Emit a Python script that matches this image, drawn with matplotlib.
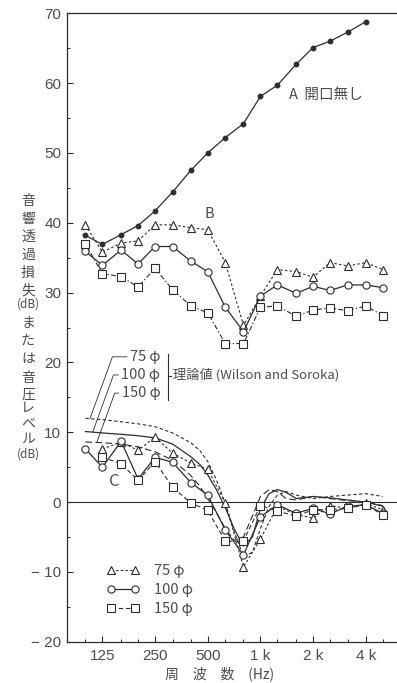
import numpy as np
import matplotlib
matplotlib.use("Agg")
import matplotlib.pyplot as plt
from matplotlib.lines import Line2D
from matplotlib.ticker import FixedLocator, NullFormatter, FuncFormatter

plt.rcParams["font.family"] = ["Noto Sans CJK JP", "DejaVu Sans"]

INK = "#2e2e2e"
TXT = "#4d4d4d"

# 1/3-octave band centres (Hz)
FREQ = [100, 125, 160, 200, 250, 315, 400, 500, 630, 800,
        1000, 1250, 1600, 2000, 2500, 3150, 4000, 5000]

# A: wall without opening, transmission loss (dB)
A_FREQ = FREQ[:17]
A_TL = [38.2, 36.9, 38.3, 39.6, 41.7, 44.4, 47.5, 50.0, 52.2, 54.2,
        58.1, 59.7, 62.7, 65.1, 66.0, 67.3, 68.8]

# B: transmission loss with opening, 75 / 100 / 150 mm
B_75 = [39.7, 35.8, 37.1, 37.4, 39.7, 39.7, 39.3, 39.0, 34.3, 25.3,
        29.5, 33.3, 33.0, 32.2, 34.3, 33.8, 34.3, 33.3]
B_100 = [35.9, 33.9, 36.1, 34.1, 36.6, 36.6, 34.5, 33.0, 27.9, 24.4,
         29.5, 31.1, 29.9, 30.9, 30.3, 31.1, 31.1, 30.7]
B_150 = [37.0, 32.7, 32.3, 30.8, 33.5, 30.4, 28.1, 27.1, 22.7, 22.7,
         27.9, 28.1, 26.6, 27.5, 27.8, 27.4, 28.1, 26.7]

# C: measured sound pressure level (dB)
C75_FREQ = FREQ[1:]
C_75 = [7.6, 8.6, 7.4, 9.3, 7.0, 5.6, 4.7, -0.1, -9.3, -5.3,
        -0.6, -1.8, -2.3, -0.5, -0.9, -0.2, -1.1]
C100_FREQ = FREQ
C_100 = [7.6, 5.0, 8.7, 3.3, 6.4, 5.7, 2.8, 1.0, -4.0, -7.6,
         -2.1, -0.4, -1.6, -0.9, -1.7, -0.6, -0.4, -1.6]
C150_FREQ = FREQ[1:]
C_150 = [6.4, 5.5, 3.1, 5.8, 2.1, -0.1, -1.2, -5.6, -5.6, -0.5,
         -1.3, -2.0, -1.1, -1.1, -0.9, -0.4, -1.8]

# theory (Wilson and Soroka)
T_FREQ = [100, 125, 160, 200, 250, 315, 400, 450, 500, 560, 630, 710,
          800, 900, 1000, 1120, 1250, 1400, 1600, 2000, 2500, 3150, 4000, 5000]
T_75 = [12.0, 11.8, 11.5, 11.2, 10.8, 9.9, 8.5, 7.4, 5.8, 3.2, -0.2, -4.3,
        -7.8, -7.2, -3.8, -0.6, 1.0, 1.5, 1.0, 0.5, 0.8, 1.0, 1.2, 0.8]
T_100 = [10.1, 9.9, 9.7, 9.5, 9.2, 8.3, 6.5, 5.4, 3.9, 1.8, -0.8, -3.9,
         -6.3, -5.0, -1.0, 1.2, 1.8, 1.4, 0.5, 0.8, 0.6, 0.3, 0.0, -0.6]
T_150 = [8.6, 8.5, 8.3, 7.9, 7.2, 6.0, 3.8, 2.3, 0.5, -1.5, -3.8, -5.5,
         -5.0, -2.0, 0.8, 1.8, 1.5, 0.5, 0.3, 0.8, 0.5, 0.2, 0.0, -0.5]

MAJOR_F = [125, 250, 500, 1000, 2000, 4000]
MAJOR_LBL = ["125", "250", "500", "1 k", "2 k", "4 k"]

W, H = 397, 683
fig = plt.figure(figsize=(W / 100, H / 100), dpi=100)
ax = fig.add_axes([66.7 / W, 1 - 641.7 / H, (W - 66.7) / W, (641.7 - 13.3) / H])

ls75 = (0, (2.2, 2.0))
ls150 = (0, (4.5, 2.0, 1.2, 2.0))
mk = dict(mfc="white", mec=INK, mew=0.8, ms=5.2)

# A
ax.plot(A_FREQ, A_TL, "-", color=INK, lw=0.9, marker="o", ms=3.2, mfc=INK, mec=INK)
# B
ax.plot(FREQ, B_75, ls=ls75, color=INK, lw=0.8, marker="^", **mk)
ax.plot(FREQ, B_100, "-", color=INK, lw=0.9, marker="o", **mk)
ax.plot(FREQ, B_150, ls=ls150, color=INK, lw=0.8, marker="s", **mk)
# C theory
ax.plot(T_FREQ, T_75, ls=(0, (3, 2.2)), color=INK, lw=0.8)
ax.plot(T_FREQ, T_100, "-", color=INK, lw=0.9)
ax.plot(T_FREQ, T_150, ls=(0, (6, 3)), color=INK, lw=0.8)
# C measured
h75, = ax.plot(C75_FREQ, C_75, ls=ls75, color=INK, lw=0.8, marker="^", **mk)
h100, = ax.plot(C100_FREQ, C_100, "-", color=INK, lw=0.9, marker="o", **mk)
h150, = ax.plot(C150_FREQ, C_150, ls=(0, (4, 2.5)), color=INK, lw=0.8, marker="s", **mk)

ax.axhline(0, color=INK, lw=0.8, zorder=1)

ax.set_xscale("log")
ax.set_xlim(78.2, 6030)
ax.set_ylim(-20, 70)

ax.xaxis.set_major_locator(FixedLocator(MAJOR_F))
ax.xaxis.set_major_formatter(FuncFormatter(lambda v, p: MAJOR_LBL[MAJOR_F.index(int(round(v)))]
                                           if int(round(v)) in MAJOR_F else ""))
ax.xaxis.set_minor_locator(FixedLocator([f for f in FREQ if f not in MAJOR_F]))
ax.xaxis.set_minor_formatter(NullFormatter())
ax.yaxis.set_major_locator(FixedLocator(range(-20, 71, 10)))
ax.yaxis.set_minor_locator(FixedLocator(range(-15, 70, 10)))
ax.yaxis.set_major_formatter(FuncFormatter(lambda v, p: f"− {-int(v)}" if v < 0 else f"{int(v)}"))

ax.tick_params(which="major", direction="in", length=4.5, width=0.8, color=INK,
               labelsize=11, labelcolor=TXT, pad=4)
ax.tick_params(which="minor", direction="in", length=2.5, width=0.7, color=INK)
ax.tick_params(axis="x", pad=5)
for t in ax.get_xticklabels() + ax.get_yticklabels():
    t.set_fontfamily(["Liberation Sans", "DejaVu Sans"])

for s in ["left", "bottom", "top"]:
    ax.spines[s].set_color(INK)
    ax.spines[s].set_linewidth(0.9)
ax.spines["right"].set_visible(False)

# curve labels
ax.text(1450, 58.3, "A  開口無し", fontsize=10.5, color=TXT, va="center")
ax.text(480, 41.3, "B", fontsize=10.5, color=TXT, va="center")
ax.text(136, 2.9, "C", fontsize=12, color=TXT, va="center")

# theory labels with leaders
for lbl, ty, cf, cy in [("75 φ", 20.8, 106, 11.9), ("100 φ", 18.2, 110, 10.0), ("150 φ", 15.6, 116, 8.5)]:
    ax.annotate(lbl, xy=(cf, cy), xytext=(268, ty), fontsize=10.5, color=TXT,
                ha="right", va="center",
                arrowprops=dict(arrowstyle="-", color=INK, lw=0.6,
                                shrinkA=0, shrinkB=0,
                                connectionstyle="angle,angleA=0,angleB=70,rad=0"))
fig.add_artist(Line2D([168 / W, 168 / W], [1 - 354 / H, 1 - 400 / H], color=INK, lw=0.8))
fig.add_artist(Line2D([168 / W, 171 / W], [1 - 376 / H, 1 - 376 / H], color=INK, lw=0.8))
ax.text(318, 18.2, "理論値 (Wilson and Soroka)", fontsize=9.5, color=TXT, va="center")

# legend for measured series
ax.legend([h75, h100, h150], ["75 φ", "100 φ", "150 φ"], loc="lower left",
          bbox_to_anchor=(0.08, 0.02), frameon=False, numpoints=2, handlelength=2.3,
          handletextpad=1.0, labelspacing=0.35, fontsize=10.5, labelcolor=TXT)

# vertical y label, one glyph per row
YCHARS = ["音", "響", "透", "過", "損", "失", "(dB)", "ま", "た", "は",
          "音", "圧", "レ", "ベ", "ル", "(dB)"]
YPOS = [201, 219, 237, 255, 273, 290, 304, 322, 341, 359, 378, 395, 408, 423, 439, 454]
for ch, yp in zip(YCHARS, YPOS):
    fig.text(28 / W, 1 - yp / H, ch, fontsize=8.5 if ch == "(dB)" else 10,
             color=TXT, ha="center", va="center")

fig.text(220 / W, 1 - 674 / H, "周　波　数　(Hz)", fontsize=10, color=TXT,
         ha="center", va="center")

fig.savefig("out.png", dpi=100, facecolor="white")
